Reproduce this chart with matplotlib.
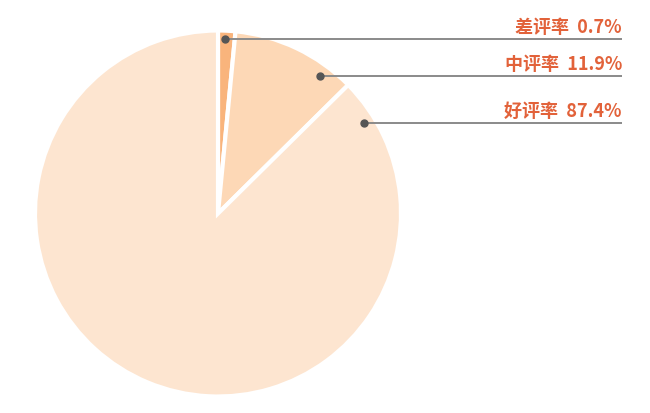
import matplotlib
matplotlib.use("Agg")
import matplotlib.pyplot as plt
import numpy as np

plt.rcParams['font.family'] = ['Noto Sans CJK SC', 'DejaVu Sans']

categories = ["差评率", "中评率", "好评率"]
values = [0.7, 11.9, 87.4]
colors = ["#F9B47C", "#FDD8B6", "#FDE5D0"]

W, H = 650, 414
fig = plt.figure(figsize=(W / 100, H / 100), dpi=100)
ax = fig.add_axes([0, 0, 1, 1])

# minimum displayed sector angle for tiny slices, borrowed from the next slice
min_angle = 5.5
vals = np.array(values, dtype=float)
disp = vals / vals.sum() * 360
for i in range(len(disp)):
    if disp[i] < min_angle:
        deficit = min_angle - disp[i]
        disp[i] = min_angle
        disp[(i + 1) % len(disp)] -= deficit

cx, cy, R = 218, H - 214.5, 183
wedges, _ = ax.pie(disp, colors=colors, startangle=90, counterclock=False,
                   center=(cx, cy), radius=R, frame=True,
                   wedgeprops=dict(edgecolor='white', linewidth=3))
ax.set_xlim(0, W)
ax.set_ylim(0, H)
ax.set_aspect('equal')
ax.axis('off')

# annotation styling: dot angle (deg from vertical, clockwise), radius fraction, line y
dot_ang = [2.3, 36.4, 58.2]
dot_r = [0.957, 0.937, 0.938]
line_y = [40, 77, 124]
x_right = 622
label_color = "#E2623A"

for name, v, a, rf, ly in zip(categories, values, dot_ang, dot_r, line_y):
    th = np.deg2rad(a)
    dx = cx + R * rf * np.sin(th)
    dy = cy + R * rf * np.cos(th)
    yy = H - ly
    ax.plot([dx, x_right], [yy, yy], color="#8A8A8A", lw=1.4, solid_capstyle='butt')
    ax.plot([dx], [yy], 'o', color="#555555", ms=5)
    ax.text(x_right, yy + 3, f"{name}  {v}%", ha='right', va='bottom',
            fontsize=13, fontweight='bold', color=label_color)

fig.savefig("out.png", dpi=100)
